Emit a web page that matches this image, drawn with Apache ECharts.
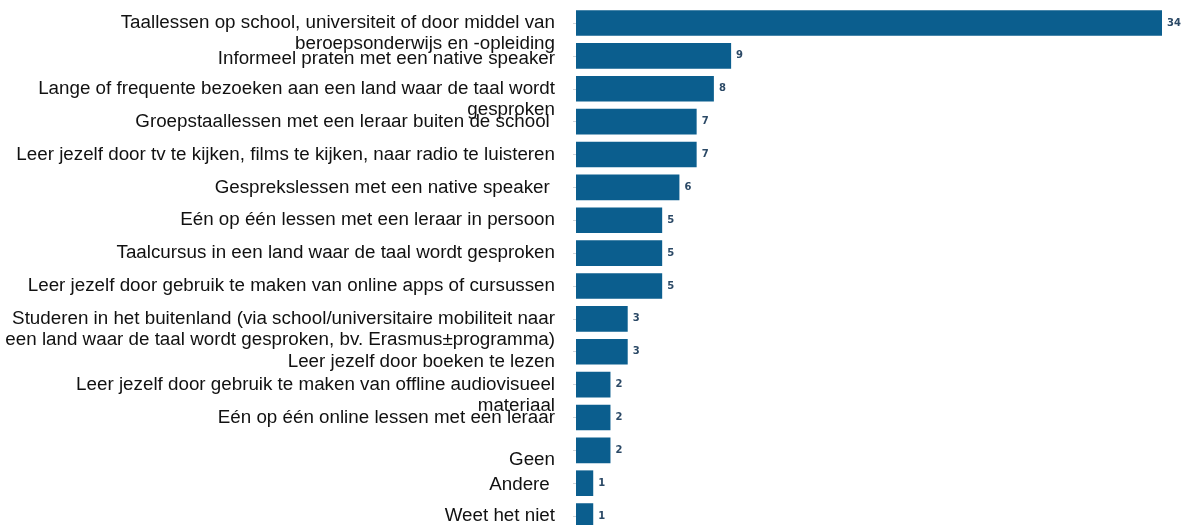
<!DOCTYPE html>
<html>
<head>
<meta charset="utf-8">
<script src="https://cdn.jsdelivr.net/npm/echarts@6/dist/echarts.min.js"></script>
<style>
  html, body { margin: 0; padding: 0; background: #ffffff; }
  #chart { width: 1187px; height: 525px; }
</style>
</head>
<body>
<div id="chart"></div>
<script>
// Learning methods, top to bottom
const categories = [
  'Taallessen op school, universiteit of door middel van\nberoepsonderwijs en -opleiding',
  'Informeel praten met een native speaker',
  'Lange of frequente bezoeken aan een land waar de taal wordt\ngesproken',
  'Groepstaallessen met een leraar buiten de school ',
  'Leer jezelf door tv te kijken, films te kijken, naar radio te luisteren',
  'Gesprekslessen met een native speaker ',
  'Eén op één lessen met een leraar in persoon',
  'Taalcursus in een land waar de taal wordt gesproken',
  'Leer jezelf door gebruik te maken van online apps of cursussen',
  'Studeren in het buitenland (via school/universitaire mobiliteit naar\neen land waar de taal wordt gesproken, bv. Erasmus±programma)',
  'Leer jezelf door boeken te lezen',
  'Leer jezelf door gebruik te maken van offline audiovisueel\nmateriaal',
  'Eén op één online lessen met een leraar',
  'Geen',
  'Andere ',
  'Weet het niet'
];

// Number of respondents per method
const counts = [34, 9, 8, 7, 7, 6, 5, 5, 5, 3, 3, 2, 2, 2, 1, 1];

// Extra downward nudge (px) for a few axis labels
const labelNudge = {
  'Informeel praten met een native speaker': 3,
  'Leer jezelf door boeken te lezen': 10,
  'Geen': 9,
  'Andere ': 2
};

const LINE_H = 21;

// Rich styles: text lines plus invisible spacer lines that push a label down,
// so multi-line labels start at the bar's centre and flow downwards.
const rich = {
  t: { fontFamily: 'Liberation Sans, Arial, sans-serif', fontSize: 18.8, lineHeight: LINE_H, color: '#111111', align: 'right' }
};
function spacerKey(h) {
  const key = 'p' + Math.round(h);
  if (!rich[key]) rich[key] = { height: Math.round(h), lineHeight: Math.round(h), fontSize: 1, align: 'right' };
  return key;
}
function formatLabel(name) {
  const lines = name.split('\n');
  const shift = (lines.length - 1) * LINE_H / 2 + (labelNudge[name] || 0);
  const body = lines.map(function (l) { return '{t|' + l + '}'; }).join('\n');
  return shift > 0 ? '{' + spacerKey(shift * 2) + '| }\n' + body : body;
}
categories.forEach(formatLabel);

const chart = echarts.init(document.getElementById('chart'), null, { renderer: 'canvas' });

chart.setOption({
  animation: false,
  backgroundColor: '#ffffff',
  grid: { left: 576, right: 25, top: 6.6, bottom: -7.5, containLabel: false, outerBoundsMode: 'none' },
  xAxis: {
    type: 'value',
    min: 0,
    max: 34,
    show: false
  },
  yAxis: {
    type: 'category',
    inverse: true,
    data: categories,
    axisLine: { show: false },
    axisTick: { show: true, alignWithLabel: true, length: 3, lineStyle: { color: '#cfd4d9', width: 1 } },
    axisLabel: {
      interval: 0,
      showMinLabel: true,
      showMaxLabel: true,
      hideOverlap: false,
      margin: 21,
      align: 'right',
      formatter: formatLabel,
      rich: rich
    },
    splitLine: { show: false }
  },
  series: [{
    type: 'bar',
    data: counts,
    barCategoryGap: '22%',
    itemStyle: { color: '#0b5e8e' },
    label: {
      show: true,
      position: 'right',
      distance: 5,
      fontFamily: 'DejaVu Sans, Verdana, sans-serif',
      fontWeight: 'bold',
      fontSize: 10,
      color: '#2b4966'
    }
  }]
});
</script>
</body>
</html>
